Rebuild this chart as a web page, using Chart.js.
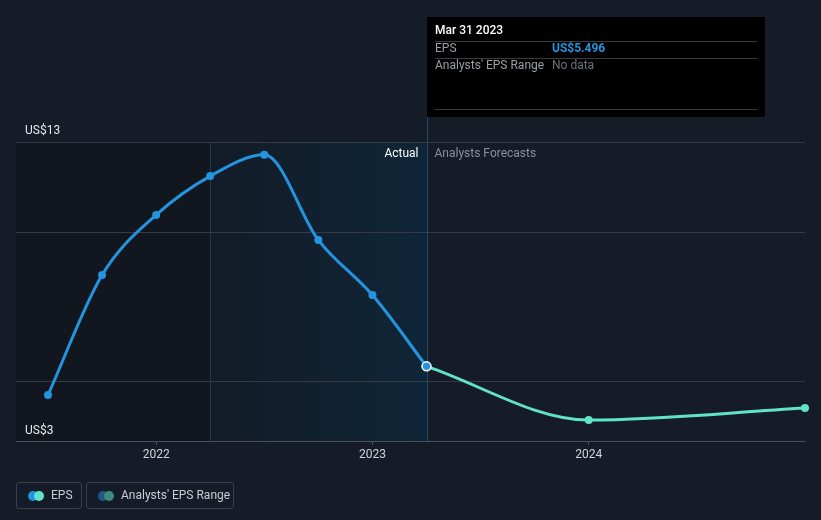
<!DOCTYPE html>
<html><head><meta charset="utf-8">
<script src="https://cdn.jsdelivr.net/npm/chart.js@4"></script>
<style>
html,body{margin:0;padding:0;background:#161c27;}
#wrap{position:relative;width:821px;height:520px;}
canvas{position:absolute;left:0;top:0;}
.leg{position:absolute;top:482px;height:27px;border:1px solid #3a404a;border-radius:3px;box-sizing:border-box;font:12px Roboto,sans-serif;color:#c9ccd1;line-height:25px;}
.dot{position:absolute;top:8px;width:10px;height:10px;border-radius:50%;}
</style></head>
<body><div id="wrap"><canvas id="c" width="821" height="520"></canvas>
<div class="leg" style="left:16px;width:66px;"><span class="dot" style="left:11px;background:#2394df"></span><span class="dot" style="left:17px;background:#5fe3c9"></span><span style="position:absolute;left:34px;">EPS</span></div>
<div class="leg" style="left:86px;width:148px;"><span class="dot" style="left:11px;background:#1f5a80"></span><span class="dot" style="left:17px;background:#3d8a80"></span><span style="position:absolute;left:34px;">Analysts' EPS Range</span></div>
</div>
<script>
const actualX = [2021.5, 2021.75, 2022.0, 2022.25, 2022.5, 2022.75, 2023.0, 2023.25];
const actualEPS = [4.54, 8.55, 10.56, 11.86, 12.57, 9.72, 7.88, 5.496];
const forecastX = [2023.25, 2024.0, 2025.0];
const forecastEPS = [5.496, 3.70, 4.10];
const xTicks = [2022, 2023, 2024];
const yGrid = [3, 5, 10, 13];
const yLabels = ['US$3', 'US$13'];
const pastStart = 2022.25, nowX = 2023.25;

const overlay = {
  id:'overlay',
  beforeDatasetsDraw(chart){
    const {ctx, chartArea:a, scales:{x,y}} = chart;
    const x1 = x.getPixelForValue(pastStart), x2 = x.getPixelForValue(nowX);
    ctx.save();
    ctx.fillStyle = '#12161e';
    ctx.fillRect(a.left, a.top, x1-a.left, a.bottom-a.top);
    const g = ctx.createLinearGradient(x1,0,x2,0);
    g.addColorStop(0,'#131b27'); g.addColorStop(1,'#0f2638');
    ctx.fillStyle = g;
    ctx.fillRect(x1, a.top, x2-x1, a.bottom-a.top);
    yGrid.forEach(v=>{
      const py = Math.round(y.getPixelForValue(v))+0.5;
      ctx.strokeStyle = (v===3)?'#4a505a':'#353b45';
      ctx.lineWidth=1;
      ctx.beginPath(); ctx.moveTo(a.left,py); ctx.lineTo(a.right,py); ctx.stroke();
    });
    ctx.strokeStyle='#1b3a55'; ctx.lineWidth=1;
    ctx.beginPath(); ctx.moveTo(Math.round(x1)+0.5,a.top); ctx.lineTo(Math.round(x1)+0.5,a.bottom); ctx.stroke();
    ctx.strokeStyle='#1f4d72';
    ctx.beginPath(); ctx.moveTo(Math.round(x2)+0.5,117); ctx.lineTo(Math.round(x2)+0.5,a.bottom); ctx.stroke();
    ctx.font='12px Roboto, sans-serif'; ctx.textBaseline='middle';
    ctx.fillStyle='#e6e8eb'; ctx.textAlign='left';
    ctx.fillText(yLabels[1], 25, y.getPixelForValue(13)-11);
    ctx.fillText(yLabels[0], 25, y.getPixelForValue(3)-10);
    ctx.textAlign='right'; ctx.fillStyle='#ffffff';
    ctx.fillText('Actual', x2-8, a.top+12);
    ctx.textAlign='left'; ctx.fillStyle='#8a8f98';
    ctx.fillText('Analysts Forecasts', x2+8, a.top+12);
    ctx.restore();
  },
  afterDraw(chart){
    const {ctx} = chart;
    const x2 = Math.round(chart.scales.x.getPixelForValue(nowX));
    ctx.save();
    ctx.fillStyle='#000000';
    ctx.fillRect(x2, 17, 765-x2, 100);
    ctx.strokeStyle='#3a3a3a'; ctx.lineWidth=1;
    [41,58,109].forEach(py=>{ctx.beginPath();ctx.moveTo(x2+8,py+0.5);ctx.lineTo(757,py+0.5);ctx.stroke();});
    ctx.textBaseline='middle'; ctx.textAlign='left';
    ctx.font='500 12px Roboto, sans-serif'; ctx.fillStyle='#ffffff';
    ctx.fillText('Mar 31 2023', x2+8, 31);
    ctx.font='12px Roboto, sans-serif'; ctx.fillStyle='#9a9ea5';
    ctx.fillText('EPS', x2+8, 49);
    ctx.fillText("Analysts' EPS Range", x2+8, 66);
    ctx.font='bold 12px Roboto, sans-serif'; ctx.fillStyle='#2394df';
    ctx.fillText('US$' + actualEPS[actualEPS.length-1], 552, 49);
    ctx.font='12px Roboto, sans-serif'; ctx.fillStyle='#6e737a';
    ctx.fillText('No data', 552, 66);
    ctx.restore();
  }
};

const toPts = (xs, ys) => xs.map((v,i)=>({x:v, y:ys[i]}));
const nA = actualX.length;
new Chart(document.getElementById('c'), {
  type:'line',
  data:{datasets:[
    {data:toPts(actualX, actualEPS), borderColor:'#2394df', backgroundColor:'#2394df', borderWidth:3,
     pointRadius:actualX.map((v,i)=>i===nA-1?4.5:4), pointBorderWidth:actualX.map((v,i)=>i===nA-1?1.5:0),
     pointBorderColor:actualX.map((v,i)=>i===nA-1?'#ffffff':'#2394df'), cubicInterpolationMode:'monotone', clip:false},
    {data:toPts(forecastX, forecastEPS), borderColor:'#5fe3c9', backgroundColor:'#5fe3c9', borderWidth:3,
     pointRadius:forecastX.map((v,i)=>i===0?0:4), pointBorderWidth:0, cubicInterpolationMode:'monotone', clip:false}
  ]},
  options:{
    responsive:false, animation:false, events:[],
    layout:{padding:{left:16, right:16, top:142, bottom:49}},
    plugins:{legend:{display:false}, tooltip:{enabled:false}},
    scales:{
      x:{type:'linear', min:2021.352, max:2025.0,
         afterBuildTicks:s=>{s.ticks = xTicks.map(v=>({value:v}));},
         afterFit:s=>{s.height=30;},
         grid:{drawOnChartArea:false, drawTicks:true, tickLength:4, color:'#4a505a'},
         border:{display:false},
         ticks:{color:'#d0d3d8', font:{family:'Roboto', size:12}, padding:3, callback:v=>String(v), maxRotation:0}},
      y:{min:3, max:13, display:true,
         afterBuildTicks:s=>{s.ticks = yGrid.map(v=>({value:v}));},
         afterFit:s=>{s.width=0;},
         grid:{display:false}, border:{display:false}, ticks:{display:false}}
    }
  },
  plugins:[overlay]
});
</script></body></html>
